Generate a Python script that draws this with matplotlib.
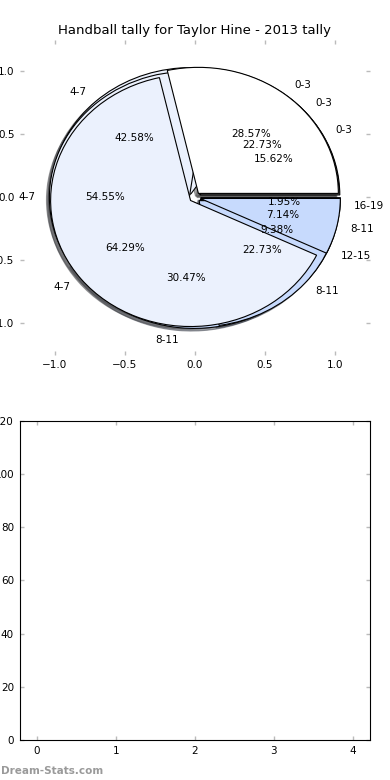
import matplotlib
matplotlib.use("Agg")
import matplotlib.pyplot as plt
import numpy as np

# tallies per score band, three pies overlaid on one axes
labels_c = ["0-3", "4-7", "8-11", "12-15", "16-19"]
values_c = [40, 109, 78, 24, 5]
labels_b = ["0-3", "4-7", "8-11"]
values_b = [5, 12, 5]
labels_a = ["0-3", "4-7", "8-11"]
values_a = [4, 9, 1]

band_colors = {"0-3": "#ffffff", "4-7": "#ebf1fd", "8-11": "#c7dafd",
               "12-15": "#a9c6fb", "16-19": "#8fb4f8"}

title = "Handball tally for Taylor Hine - 2013 tally"
bar_ticks = [0, 1, 2, 3, 4]
bar_yticks = [0, 20, 40, 60, 80, 100, 120]

fig = plt.figure(figsize=(3.9, 7.8), dpi=100)
ax1 = fig.add_axes([0.0513, 0.545, 0.897, 0.404])
ax2 = fig.add_axes([0.05, 0.0513, 0.8987, 0.4090])

for labs, vals in [(labels_c, values_c), (labels_b, values_b), (labels_a, values_a)]:
    ax1.pie(vals, labels=labs, colors=[band_colors[l] for l in labs],
            explode=[0.04] * len(vals), autopct="%1.2f%%",
            shadow={"ox": -0.015, "oy": -0.015},
            startangle=0, wedgeprops={"edgecolor": "black", "linewidth": 0.8},
            textprops={"fontsize": 7.5})

ax1.set_aspect("auto")
ax1.set_xlim(-1.25, 1.25)
ax1.set_ylim(-1.25, 1.25)
ticks = [-1.0, -0.5, 0.0, 0.5, 1.0]
ax1.set_xticks(ticks)
ax1.set_yticks(ticks)
ax1.set_xticklabels(["%.1f" % t if t >= 0 else "\u2212%.1f" % -t for t in ticks])
ax1.set_yticklabels(["%.1f" % t if t >= 0 else "\u2212%.1f" % -t for t in ticks])
ax1.set_title(title, fontsize=9.5, pad=4)

ax2.set_xlim(-0.22, 4.22)
ax2.set_ylim(0, 120)
ax2.set_xticks(bar_ticks)
ax2.set_yticks(bar_yticks)

for ax in (ax1, ax2):
    ax.tick_params(direction="in", length=3, width=1, color="#bbbbbb",
                   top=True, right=True, labelsize=7.5, pad=4)

fig.text(0.002, 0.008, "Dream-Stats.com", fontsize=7.5, color="#9a9a9a",
         fontweight="bold")

fig.savefig("out.png", dpi=100)
